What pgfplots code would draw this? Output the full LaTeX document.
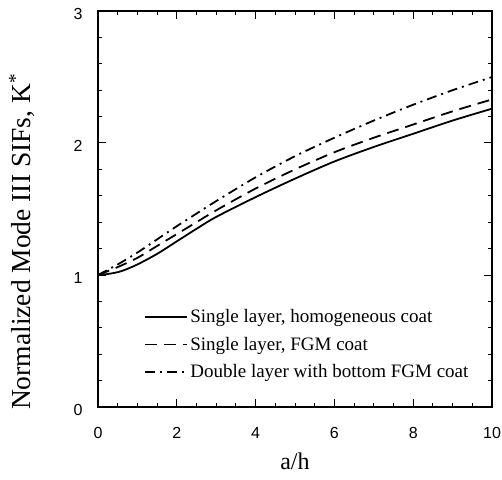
\documentclass[border=0pt]{standalone}
\usepackage{fontspec}
\setmainfont{Liberation Serif}
\setsansfont{Liberation Sans}
\usepackage{pgfplots}
\pgfplotsset{compat=1.18}
\begin{document}
\begin{tikzpicture}
\begin{axis}[
  scale only axis, width=394pt, height=396pt,
  xmin=0, xmax=10, ymin=0, ymax=3,
  xtick={0,2,4,6,8,10}, ytick={0,1,2,3},
  minor x tick num=3, minor y tick num=4,
  tick align=inside, major tick length=8pt, minor tick length=4pt,
  axis line style={line width=1.3pt},
  every tick/.style={black, line width=1pt},
  tick label style={font=\sffamily\fontsize{16}{16}\selectfont},
  /pgf/number format/assume math mode=true,
  xticklabel style={anchor=center, yshift=-26pt},
  yticklabel style={anchor=center, xshift=-20pt, yshift=-3pt},
  xlabel={a/h}, ylabel={Normalized Mode III SIFs, K\textsuperscript{*}},
  xlabel style={at={(rel axis cs:0.5,0)}, anchor=center, yshift=-54pt, font=\fontsize{24}{24}\selectfont},
  ylabel style={at={(rel axis cs:0,0.417)}, anchor=center, yshift=76pt, font=\fontsize{27.5}{27.5}\selectfont},
  legend style={draw=none, fill=none, at={(rel axis cs:0.11,0.257)}, anchor=north west,
    font=\fontsize{19}{22}\selectfont, row sep=9pt},
  legend cell align=left,
  legend image code/.code={\draw[#1] (0pt,0pt) -- (42pt,0pt);},
]
\addplot[black, line width=1.8pt, smooth] coordinates {
(0,1.0) (0.3,1.01) (0.6,1.03) (1,1.08) (1.5,1.16) (2,1.255) (2.5,1.35) (3,1.44)
(4,1.59) (5,1.73) (6,1.86) (7,1.97) (8,2.07) (9,2.17) (10,2.26)};
\addlegendentry{Single layer, homogeneous coat}
\addplot[black, line width=1.8pt, smooth, dash pattern=on 12pt off 7pt] coordinates {
(0,1.0) (0.5,1.06) (1,1.13) (1.5,1.22) (2,1.31) (2.5,1.40) (3,1.49)
(4,1.655) (5,1.80) (6,1.93) (7,2.04) (8,2.14) (9,2.24) (10,2.33)};
\addlegendentry{Single layer, FGM coat}
\addplot[black, line width=1.8pt, smooth, dash pattern=on 10pt off 5pt on 2pt off 5pt] coordinates {
(0,1.0) (0.5,1.08) (1,1.17) (1.5,1.27) (2,1.37) (2.5,1.465) (3,1.56)
(4,1.74) (5,1.90) (6,2.04) (7,2.17) (8,2.29) (9,2.40) (10,2.50)};
\addlegendentry{Double layer with bottom FGM coat}
\coordinate (bl) at (rel axis cs:0,0);
\coordinate (tr) at (rel axis cs:1,1);
\end{axis}
\pgfresetboundingbox
\path ([xshift=-98pt,yshift=-72pt]bl) rectangle ([xshift=10pt,yshift=11pt]tr);
\end{tikzpicture}
\end{document}
